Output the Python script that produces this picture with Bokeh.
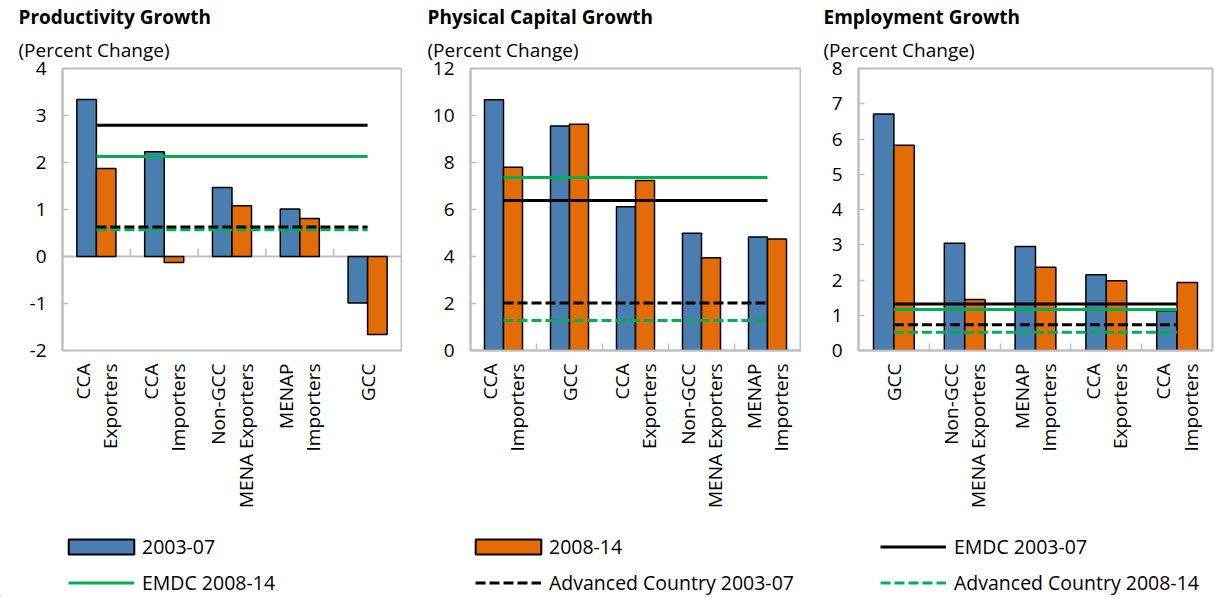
import math
from bokeh.plotting import figure
from bokeh.models import Range1d, FixedTicker, Title, Legend, LegendItem, Span, PrintfTickFormatter
from bokeh.layouts import row, column
from bokeh.embed import file_html
from bokeh.resources import INLINE

# ---------------- data ----------------
prod_cats = ["CCA\nExporters", "CCA\nImporters", "Non-GCC\nMENA Exporters", "MENAP\nImporters", "GCC"]
prod_0307 = [3.34, 2.23, 1.47, 1.01, -0.99]
prod_0814 = [1.87, -0.13, 1.08, 0.81, -1.66]
prod_emdc_0307 = 2.79
prod_emdc_0814 = 2.13
prod_adv_0307 = 0.63
prod_adv_0814 = 0.57
prod_yticks = [-2, -1, 0, 1, 2, 3, 4]

cap_cats = ["CCA\nImporters", "GCC", "CCA\nExporters", "Non-GCC\nMENA Exporters", "MENAP\nImporters"]
cap_0307 = [10.67, 9.55, 6.12, 4.99, 4.83]
cap_0814 = [7.80, 9.63, 7.23, 3.95, 4.75]
cap_emdc_0307 = 6.38
cap_emdc_0814 = 7.36
cap_adv_0307 = 2.02
cap_adv_0814 = 1.28
cap_yticks = [0, 2, 4, 6, 8, 10, 12]

emp_cats = ["GCC", "Non-GCC\nMENA Exporters", "MENAP\nImporters", "CCA\nExporters", "CCA\nImporters"]
emp_0307 = [6.71, 3.04, 2.95, 2.15, 1.13]
emp_0814 = [5.82, 1.45, 2.36, 1.98, 1.93]
emp_emdc_0307 = 1.32
emp_emdc_0814 = 1.16
emp_adv_0307 = 0.73
emp_adv_0814 = 0.52
emp_yticks = [0, 1, 2, 3, 4, 5, 6, 7, 8]

series_labels = ["2003-07", "2008-14", "EMDC 2003-07", "EMDC 2008-14",
                 "Advanced Country 2003-07", "Advanced Country 2008-14"]

# ---------------- style ----------------
BLUE = "#4A7EB0"
ORANGE = "#E36C09"
GREEN = "#00B050"
GRAY = "#BFBFBF"
FONT = "Open Sans"
BW = 0.288
H = 534
HL = 597 - H
DASH = "10 4"


def panel(title, cats, v1, v2, emdc1, emdc2, adv1, adv2, yr, yticks,
          width, bl, br, bt, frame_bottom, toff, zero_line=False):
    n = len(cats)
    p = figure(width=width, height=H, x_range=Range1d(0, n), y_range=Range1d(*yr),
               output_backend="svg", toolbar_location=None, title=None,
               min_border_left=bl, min_border_right=br, min_border_top=bt,
               min_border_bottom=H - frame_bottom)
    centers = [i + 0.5 for i in range(n)]
    bounds = [i for i in range(1, n)]

    if zero_line:
        p.add_layout(Span(location=0, dimension="width", line_color=GRAY, line_width=2, level="underlay"))
        p.segment(x0=bounds, y0=[0] * len(bounds), x1=bounds,
                  y1=[(yr[1] - yr[0]) * 0.028] * len(bounds), line_color=GRAY, line_width=1.5,
                  level="underlay")

    p.vbar(x=[c - BW / 2 for c in centers], top=v1, bottom=0, width=BW,
           fill_color=BLUE, line_color="black", line_width=1.5)
    p.vbar(x=[c + BW / 2 for c in centers], top=v2, bottom=0, width=BW,
           fill_color=ORANGE, line_color="black", line_width=1.5)

    x_line = [centers[0], centers[-1]]
    p.line(x_line, [adv2, adv2], line_color=GREEN, line_width=3, line_dash=DASH)
    p.line(x_line, [adv1, adv1], line_color="black", line_width=3, line_dash=DASH)
    p.line(x_line, [emdc2, emdc2], line_color=GREEN, line_width=3)
    p.line(x_line, [emdc1, emdc1], line_color="black", line_width=3)

    p.xgrid.visible = False
    p.ygrid.visible = False
    p.outline_line_color = GRAY
    p.outline_line_width = 2

    xa = p.xaxis[0]
    xa.axis_label = None
    xa.axis_label_standoff = 0
    xa.ticker = FixedTicker(ticks=centers, minor_ticks=[] if zero_line else bounds)
    xa.major_label_overrides = {c: lab for c, lab in zip(centers, cats)}
    xa.major_tick_line_color = None
    xa.major_tick_in = 0
    xa.major_tick_out = 0
    xa.minor_tick_in = 7
    xa.minor_tick_out = 0
    xa.minor_tick_line_color = GRAY
    xa.minor_tick_line_width = 1.5
    xa.axis_line_color = None if zero_line else GRAY
    xa.axis_line_width = 2
    xa.major_label_orientation = math.pi / 2
    xa.major_label_standoff = 13
    xa.major_label_text_font = FONT
    xa.major_label_text_font_size = "19px"
    xa.major_label_text_color = "black"
    xa.major_label_text_line_height = 1.05

    ya = p.yaxis[0]
    ya.ticker = FixedTicker(ticks=yticks)
    ya.formatter = PrintfTickFormatter(format="%d")
    ya.major_tick_in = 6
    ya.major_tick_out = 0
    ya.major_tick_line_color = GRAY
    ya.major_tick_line_width = 1.5
    ya.minor_tick_line_color = None
    ya.axis_line_color = GRAY
    ya.axis_line_width = 2
    ya.major_label_standoff = 16
    ya.major_label_text_font = FONT
    ya.major_label_text_font_size = "19px"
    ya.major_label_text_color = "black"

    p.add_layout(Title(text="(Percent Change)", align="left", offset=toff, standoff=11,
                       text_font=FONT, text_font_size="19px", text_font_style="normal",
                       text_line_height=0.8, text_color="black"), "above")
    p.add_layout(Title(text=title, align="left", offset=toff, standoff=0,
                       text_font=FONT, text_font_size="19px", text_font_style="bold",
                       text_color="black"), "above")
    return p


p1 = panel("Productivity Growth", prod_cats, prod_0307, prod_0814, prod_emdc_0307, prod_emdc_0814,
           prod_adv_0307, prod_adv_0814, (-2, 4), prod_yticks,
           width=402, bl=62, br=1, bt=66, frame_bottom=354, toff=-44, zero_line=True)
p2 = panel("Physical Capital Growth", cap_cats, cap_0307, cap_0814, cap_emdc_0307, cap_emdc_0814,
           cap_adv_0307, cap_adv_0814, (0, 12), cap_yticks,
           width=399, bl=68, br=1, bt=67, frame_bottom=350, toff=-43)
p3 = panel("Employment Growth", emp_cats, emp_0307, emp_0814, emp_emdc_0307, emp_emdc_0814,
           emp_adv_0307, emp_adv_0814, (0, 8), emp_yticks,
           width=413, bl=57, br=2, bt=68, frame_bottom=352, toff=-35)

# ---------------- legend strip (keys drawn outside its visible range) ----------------
pl = figure(width=1214, height=HL, x_range=Range1d(0, 1), y_range=Range1d(0, 1),
            output_backend="svg", toolbar_location=None, min_border=0, title=None)
pl.axis.visible = False
pl.grid.visible = False
pl.outline_line_color = None

off = [-5.0]
off2 = [-5.0, -4.0]
r_b = pl.vbar(x=off, top=off, width=0.1, fill_color=BLUE, line_color="black", line_width=2)
r_o = pl.vbar(x=off, top=off, width=0.1, fill_color=ORANGE, line_color="black", line_width=2)
r_e1 = pl.line(x=off2, y=off2, line_color="black", line_width=3)
r_e2 = pl.line(x=off2, y=off2, line_color=GREEN, line_width=3)
r_a1 = pl.line(x=off2, y=off2, line_color="black", line_width=3, line_dash=DASH)
r_a2 = pl.line(x=off2, y=off2, line_color=GREEN, line_width=3, line_dash=DASH)

ITEM_H = 26
ROW_TOP = [0, 36]  # top of each key row inside the strip

keys = [
    (series_labels[0], r_b, 68, 0, True),
    (series_labels[3], r_e2, 68, 1, False),
    (series_labels[1], r_o, 475, 0, True),
    (series_labels[4], r_a1, 475, 1, False),
    (series_labels[2], r_e1, 880, 0, False),
    (series_labels[5], r_a2, 880, 1, False),
]
for lab, rend, xpos, ri, is_bar in keys:
    if is_bar:
        gx, gw, gh, st = xpos - 8, 82, 19, 0
    else:
        gx, gw, gh, st = xpos, 66, 15, 8
    vy = HL - (ROW_TOP[ri] + ITEM_H)
    leg = Legend(items=[LegendItem(label=lab, renderers=[rend])],
                 location=(gx, vy), orientation="vertical",
                 glyph_width=gw, glyph_height=gh, label_height=ITEM_H, label_standoff=st,
                 label_text_font=FONT, label_text_font_size="19.5px", label_text_color="black",
                 spacing=0, padding=0, margin=0, border_line_color=None,
                 background_fill_alpha=0)
    pl.add_layout(leg)

layout = column(row(p1, p2, p3), pl)
open("out.html", "w").write(file_html(layout, INLINE))
